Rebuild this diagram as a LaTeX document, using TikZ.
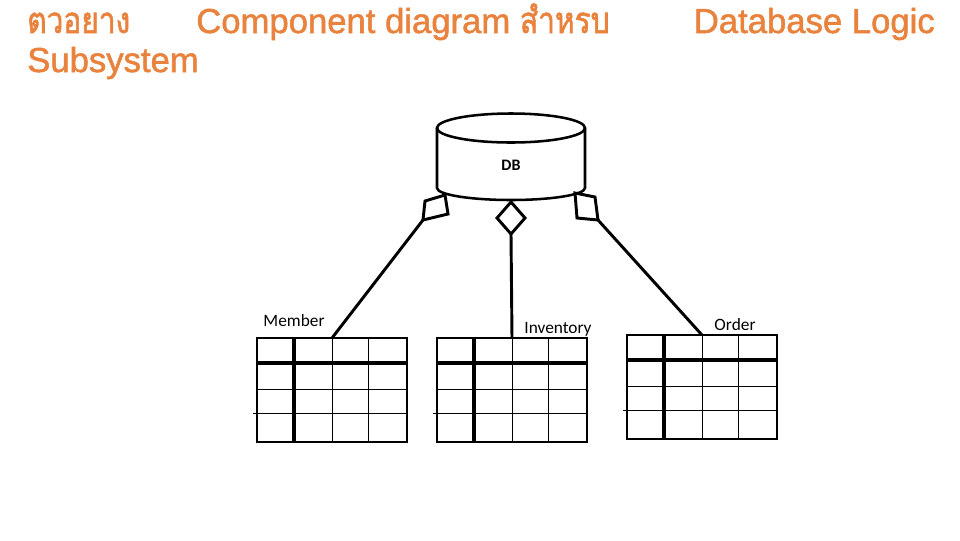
\documentclass[tikz,border=0pt]{standalone}
\usepackage{fontspec}
\setmainfont{Liberation Sans}
\newfontfamily\titlefont[FakeBold=1.5]{Liberation Sans}
\newfontfamily\thaifont[Script=Thai, Scale=1.05, FakeStretch=0.82, FakeBold=1.5]{Loma}
\newfontfamily\lblfont{Carlito}
\usetikzlibrary{positioning, shapes.geometric, calc}
\definecolor{ctitle}{HTML}{E8823C}

\begin{document}
\begin{tikzpicture}[
  x=0.75pt, y=-0.75pt,
  title/.style={text=ctitle, inner sep=0pt, font=\titlefont\fontsize{26}{29}\selectfont},
  lbl/.style={font=\lblfont\fontsize{13}{15}\selectfont, inner sep=0pt},
  dbline/.style={line width=1.9pt},
  agg/.style={line width=2.2pt, line join=miter},
  link/.style={line width=2.2pt},
  tbl/.style={draw, line width=1.5pt, minimum width=112.5pt,
              minimum height=78pt, inner sep=0pt, outer sep=0pt},
  keyline/.style={line width=3pt},
  cell/.style={line width=0.75pt}
]
\useasboundingbox (0,0) rectangle (960,540);

% Title
\node[title, anchor=base west, text depth=2pt] (titlea) at (27,33) {\thaifont ตวอยาง};
\node[title, anchor=base west, text depth=2pt] (titleb) at (196,33)
  {Component diagram {\thaifont สำหรบ}};
\node[title, anchor=base east] (titlec) at (935,33) {Database Logic};
\node[title, anchor=base west] (titled) at (27,72) {Subsystem};

% Database cylinder
\draw[dbline] (511,128) ellipse [x radius=74, y radius=14.5];
\draw[dbline] (437,128) -- (437,188)
  arc[start angle=180, end angle=0, x radius=74, y radius=12] -- (585,128);
\node[font=\lblfont\bfseries\fontsize{12}{14}\selectfont] (db) at (511,165) {DB};

% Aggregation diamonds
\draw[agg] (445,195) -- (448,214) -- (423,220) -- (425,201) -- cycle;
\coordinate (aggL) at (423,220);
\draw[agg] (511,202) -- (525,218) -- (511,234) -- (497,218) -- cycle;
\coordinate (aggM) at (511,234);
\draw[agg] (575,193) -- (595,197) -- (598,220) -- (577,218) -- cycle;
\coordinate (aggR) at (598,220);

% Tables
\foreach \tname/\tx/\ty in {member/257/338, inventory/437/338, order/627/335} {
  \node[tbl, anchor=north west] (\tname) at (\tx,\ty) {};
  \draw[keyline] ($(\tname.north west)+(37,0)$) -- ($(\tname.south west)+(37,0)$);
  \draw[keyline] ($(\tname.north west)+(0,25)$) -- ($(\tname.north east)+(0,25)$);
  \draw[cell] ($(\tname.north west)+(75,0)$) -- ($(\tname.south west)+(75,0)$);
  \draw[cell] ($(\tname.north west)+(111,0)$) -- ($(\tname.south west)+(111,0)$);
  \draw[cell] ($(\tname.north west)+(0,51)$) -- ($(\tname.north east)+(0,51)$);
  \draw[cell] ($(\tname.north west)+(-4,75)$) -- ($(\tname.north east)+(0,75)$);
}

\node[lbl] (memberlbl) at (294,321) {Member};
\node[lbl] (inventorylbl) at (558,329) {Inventory};
\node[lbl] (orderlbl) at (735,325) {Order};

% Links
\draw[link] (aggL) -- (member.north);
\draw[link] (aggM) -- (inventory.north);
\draw[link] (aggR) -- (order.north);
\end{tikzpicture}
\end{document}
